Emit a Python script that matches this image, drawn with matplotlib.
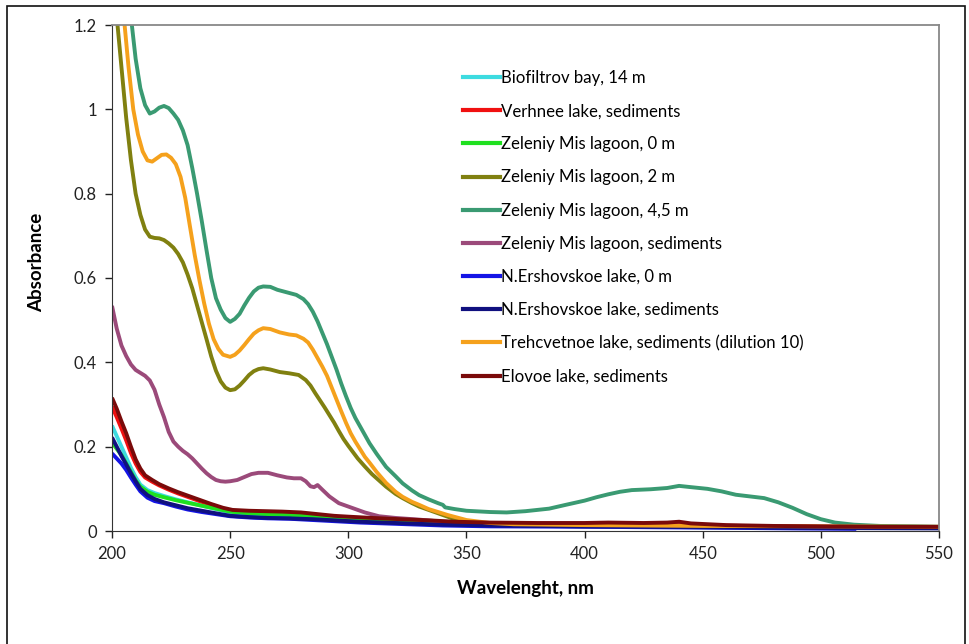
import matplotlib
matplotlib.use("Agg")
import matplotlib.pyplot as plt
from matplotlib.patches import Rectangle
from matplotlib.lines import Line2D

plt.rcParams['font.family'] = ['Lato', 'DejaVu Sans']

# --- data (wavelength nm, absorbance) ---
wl_cyan = [200, 202, 204, 206, 208, 210, 212, 215, 218, 222, 227, 232, 238, 244, 250, 258, 266,
           275, 285, 295, 305, 320, 340, 360, 400, 450, 500, 550]
ab_cyan = [0.25, 0.225, 0.2, 0.175, 0.15, 0.128, 0.11, 0.097, 0.09, 0.083, 0.075, 0.068, 0.06,
           0.052, 0.044, 0.04, 0.038, 0.036, 0.033, 0.029, 0.025, 0.021, 0.017, 0.015, 0.013,
           0.011, 0.009, 0.008]

wl_red = [200, 202, 204, 206, 208, 210, 212, 214, 217, 220, 224, 228, 232, 237, 242, 247, 251,
          258, 265, 272, 280, 290, 300, 310, 322, 335, 350, 370, 400, 440, 480, 520, 550]
ab_red = [0.295, 0.27, 0.243, 0.215, 0.185, 0.16, 0.14, 0.127, 0.117, 0.108, 0.098, 0.089, 0.081,
          0.071, 0.062, 0.053, 0.047, 0.044, 0.043, 0.042, 0.04, 0.036, 0.031, 0.027, 0.024,
          0.021, 0.018, 0.016, 0.015, 0.014, 0.011, 0.009, 0.008]

wl_zm0 = [200, 202, 204, 206, 208, 210, 212, 215, 218, 222, 227, 232, 238, 244, 250, 258, 266,
          275, 285, 295, 305, 320, 340, 360, 400, 450, 500, 550]
ab_zm0 = [0.21, 0.195, 0.18, 0.16, 0.14, 0.12, 0.105, 0.093, 0.086, 0.08, 0.073, 0.067, 0.06,
          0.053, 0.046, 0.042, 0.04, 0.038, 0.035, 0.03, 0.026, 0.022, 0.018, 0.016, 0.014,
          0.011, 0.009, 0.008]

wl_zm2 = [200, 202, 204, 206, 208, 210, 212, 214, 216, 218, 220, 222, 224, 226, 228, 230, 232,
          234, 236, 238, 240, 242, 244, 246, 248, 250, 252, 254, 256, 258, 260, 262, 264, 267,
          271, 275, 279, 282, 284, 286, 288, 290, 292, 294, 296, 298, 300, 302, 304, 307, 310,
          313, 316, 320, 323, 327, 330, 334, 338, 342, 346, 350, 360, 400, 450, 500, 550]
ab_zm2 = [1.35, 1.22, 1.1, 0.98, 0.88, 0.8, 0.75, 0.715, 0.698, 0.695, 0.694, 0.69, 0.682, 0.672,
          0.657, 0.637, 0.608, 0.575, 0.535, 0.495, 0.455, 0.414, 0.38, 0.355, 0.34, 0.334,
          0.336, 0.345, 0.357, 0.37, 0.379, 0.384, 0.386, 0.383, 0.377, 0.374, 0.37, 0.358,
          0.345, 0.327, 0.31, 0.293, 0.275, 0.257, 0.237, 0.218, 0.202, 0.187, 0.172, 0.153,
          0.135, 0.12, 0.105, 0.088, 0.078, 0.066, 0.058, 0.05, 0.042, 0.034, 0.026, 0.02,
          0.014, 0.011, 0.01, 0.009, 0.008]

wl_zm45 = [200, 204, 206, 208, 210, 212, 214, 216, 218, 220, 222, 224, 226, 228, 230, 232, 234,
           236, 238, 240, 242, 244, 246, 248, 250, 252, 254, 256, 258, 260, 262, 264, 267, 270,
           274, 278, 281, 283, 285, 287, 289, 291, 293, 295, 297, 299, 301, 303, 305, 307, 309,
           312, 316, 320, 323, 327, 330, 334, 338, 340, 341, 345, 350, 360, 367, 375, 385, 392,
           400, 405, 410, 415, 420, 428, 435, 440, 445, 452, 458, 464, 470, 476, 482, 488, 494,
           500, 506, 514, 525, 540, 550]
ab_zm45 = [1.75, 1.45, 1.32, 1.22, 1.12, 1.05, 1.01, 0.99, 0.995, 1.004, 1.008, 1.003, 0.99,
           0.975, 0.95, 0.915, 0.86, 0.8, 0.735, 0.666, 0.6, 0.552, 0.525, 0.505, 0.496, 0.503,
           0.515, 0.535, 0.553, 0.568, 0.577, 0.58, 0.579, 0.572, 0.566, 0.56, 0.55, 0.538,
           0.52, 0.497, 0.47, 0.443, 0.413, 0.383, 0.35, 0.32, 0.292, 0.268, 0.248, 0.228,
           0.208, 0.183, 0.152, 0.13, 0.113, 0.096, 0.085, 0.075, 0.066, 0.062, 0.056, 0.052,
           0.048, 0.045, 0.044, 0.047, 0.053, 0.062, 0.072, 0.08, 0.087, 0.093, 0.097, 0.099,
           0.102, 0.107, 0.104, 0.1, 0.094, 0.086, 0.082, 0.078, 0.068, 0.055, 0.04, 0.028,
           0.02, 0.015, 0.012, 0.011, 0.01]

wl_zms = [200, 202, 204, 206, 208, 210, 212, 214, 216, 218, 220, 222, 224, 226, 228, 230, 232,
          234, 236, 238, 240, 242, 244, 246, 248, 250, 253, 256, 259, 262, 266, 270, 274, 277,
          280, 282, 284, 285.5, 287, 289, 292, 296, 300, 302, 307, 313, 320, 330, 340, 360, 400,
          450, 500, 550]
ab_zms = [0.534, 0.48, 0.44, 0.415, 0.395, 0.382, 0.375, 0.368, 0.357, 0.335, 0.3, 0.27, 0.235,
          0.212, 0.2, 0.19, 0.182, 0.172, 0.16, 0.148, 0.137, 0.128, 0.121, 0.118, 0.117, 0.118,
          0.121, 0.128, 0.135, 0.138, 0.138, 0.132, 0.127, 0.125, 0.125, 0.118, 0.106, 0.104,
          0.109, 0.098, 0.082, 0.066, 0.058, 0.054, 0.044, 0.035, 0.031, 0.027, 0.022, 0.018,
          0.015, 0.012, 0.01, 0.009]

wl_ne0 = [200, 202, 204, 206, 208, 210, 212, 215, 218, 222, 227, 232, 238, 244, 250, 258, 266,
          275, 285, 295, 305, 320, 340, 360, 400, 450, 490, 515]
ab_ne0 = [0.184, 0.172, 0.16, 0.145, 0.127, 0.11, 0.094, 0.079, 0.071, 0.066, 0.058, 0.051,
          0.045, 0.04, 0.035, 0.032, 0.03, 0.029, 0.026, 0.023, 0.02, 0.017, 0.013, 0.011, 0.01,
          0.008, 0.006, 0.005]

wl_nes = [200, 202, 204, 206, 208, 210, 212, 215, 218, 222, 227, 232, 238, 244, 250, 258, 266,
          275, 285, 295, 305, 320, 340, 360, 400, 450, 500, 550]
ab_nes = [0.222, 0.2, 0.178, 0.158, 0.137, 0.118, 0.1, 0.085, 0.076, 0.068, 0.061, 0.054, 0.048,
          0.042, 0.036, 0.033, 0.031, 0.03, 0.028, 0.025, 0.022, 0.019, 0.015, 0.013, 0.011,
          0.009, 0.007, 0.006]

wl_tre = [200, 203, 205, 207, 209, 211, 213, 215, 217, 219, 221, 223, 225, 227, 229, 231, 233,
          235, 237, 239, 241, 243, 245, 247, 250, 252, 254, 256, 258, 260, 262, 264, 267, 271,
          275, 278, 281, 283, 285, 287, 289, 291, 293, 295, 297, 299, 301, 303, 305, 307, 309,
          312, 316, 320, 323, 327, 330, 334, 338, 342, 346, 350, 360, 370, 400, 450, 500, 550]
ab_tre = [1.6, 1.35, 1.22, 1.1, 1.0, 0.94, 0.9, 0.879, 0.876, 0.884, 0.892, 0.893, 0.885, 0.87,
          0.84, 0.79, 0.722, 0.655, 0.595, 0.54, 0.492, 0.455, 0.432, 0.418, 0.413, 0.418,
          0.428, 0.441, 0.455, 0.468, 0.476, 0.481, 0.479, 0.471, 0.466, 0.464, 0.456, 0.447,
          0.43, 0.41, 0.39, 0.368, 0.34, 0.312, 0.284, 0.257, 0.232, 0.212, 0.194, 0.176,
          0.162, 0.14, 0.114, 0.093, 0.081, 0.069, 0.062, 0.052, 0.045, 0.038, 0.032, 0.026,
          0.019, 0.016, 0.014, 0.012, 0.011, 0.01]

wl_elo = [200, 202, 204, 206, 208, 210, 212, 214, 217, 220, 224, 228, 232, 237, 242, 247, 251,
          258, 265, 272, 280, 287, 294, 300, 310, 322, 335, 345, 360, 380, 400, 410, 425, 435,
          440, 445, 460, 480, 500, 525, 550]
ab_elo = [0.316, 0.29, 0.26, 0.232, 0.2, 0.17, 0.148, 0.132, 0.121, 0.111, 0.101, 0.092, 0.084,
          0.074, 0.064, 0.055, 0.05, 0.048, 0.047, 0.046, 0.044, 0.04, 0.036, 0.034, 0.031,
          0.028, 0.025, 0.022, 0.02, 0.019, 0.019, 0.02, 0.019, 0.02, 0.022, 0.018, 0.014,
          0.012, 0.011, 0.01, 0.01]

labels = ["Biofiltrov bay, 14 m", "Verhnee lake, sediments", "Zeleniy Mis lagoon, 0 m",
          "Zeleniy Mis lagoon, 2 m", "Zeleniy Mis lagoon, 4,5 m", "Zeleniy Mis lagoon, sediments",
          "N.Ershovskoe lake, 0 m", "N.Ershovskoe lake, sediments",
          "Trehcvetnoe lake, sediments (dilution 10)", "Elovoe lake, sediments"]
colors = ["#3ddbe0", "#f01010", "#1fe01f", "#808010", "#3a9a72", "#9b4a7a",
          "#1414e6", "#10107f", "#f5a11c", "#7a0a0a"]
series = [(wl_cyan, ab_cyan), (wl_red, ab_red), (wl_zm0, ab_zm0), (wl_zm2, ab_zm2),
          (wl_zm45, ab_zm45), (wl_zms, ab_zms), (wl_ne0, ab_ne0), (wl_nes, ab_nes),
          (wl_tre, ab_tre), (wl_elo, ab_elo)]

fig = plt.figure(figsize=(9.69, 6.44), dpi=100)
ax = fig.add_axes([112/969, 113/644, 827/969, 506/644])

for (x, y), c in zip(series, colors):
    ax.plot(x, y, color=c, lw=2.8, solid_capstyle='butt', solid_joinstyle='round')

ax.set_xlim(200, 550)
ax.set_ylim(0, 1.2)
ax.set_xticks(range(200, 551, 50))
ax.set_yticks([0, 0.2, 0.4, 0.6, 0.8, 1.0, 1.2])
ax.set_yticklabels(["0", "0.2", "0.4", "0.6", "0.8", "1", "1.2"])
ax.tick_params(direction='out', length=5, width=1, labelsize=12, colors='#222222', pad=6)

for side in ['left', 'bottom']:
    ax.spines[side].set_color('#333333')
for side in ['top', 'right']:
    ax.spines[side].set_color('#888888')
    ax.spines[side].set_linewidth(1.3)

ax.set_xlabel("Wavelenght, nm", fontsize=13.5, fontweight='bold')
ax.set_ylabel("Absorbance", fontsize=13.5, fontweight='bold')
ax.xaxis.set_label_coords(0.5, -0.097)
ax.yaxis.set_label_coords(-0.081, 0.53)

handles = [Line2D([], [], color=c, lw=3) for c in colors]
leg = ax.legend(handles, labels, loc='upper left', bbox_to_anchor=(463/969, 1 - 70/644),
                bbox_transform=fig.transFigure, frameon=False, fontsize=12.1,
                handlelength=2.2, handletextpad=0.05, labelspacing=1.02,
                borderpad=0, borderaxespad=0)

# outer chart border
fig.patches.append(Rectangle((7/969, -0.01), 958/969, 1 - 6/644 + 0.01,
                             transform=fig.transFigure, fill=False,
                             edgecolor='#111111', lw=1.2))

fig.savefig("out.png", dpi=100)
